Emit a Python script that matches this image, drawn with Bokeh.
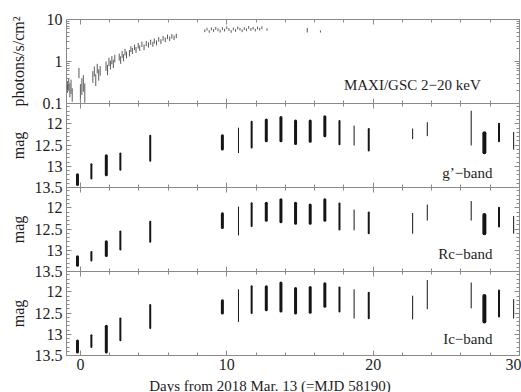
import numpy as np
from bokeh.plotting import figure
from bokeh.models import (LinearAxis, FixedTicker, Range1d, Label, ColumnDataSource,
                          LogScale, LinearScale, CustomJSTickFormatter, BoxAnnotation)
from bokeh.embed import file_html
from bokeh.resources import INLINE

# ---------------- data ----------------
maxi_day = [-0.88, -0.8, -0.72, -0.64, -0.56,
            -0.1, 0.0, 0.1, 0.2, 0.3,
            0.85, 0.95, 1.05, 1.15, 1.25, 1.35,
            1.75, 1.85, 1.95, 2.05, 2.15, 2.25, 2.35,
            2.65, 2.75, 2.85, 2.95, 3.05, 3.15,
            3.35, 3.45, 3.55, 3.7, 3.8, 3.95, 4.05, 4.2, 4.35, 4.5,
            4.65, 4.8, 4.95, 5.05, 5.2, 5.35, 5.5, 5.65, 5.8, 5.95, 6.1, 6.25, 6.4, 6.55,
            8.5, 8.65, 8.8, 8.95, 9.1, 9.25, 9.4, 9.55, 9.7, 9.85, 10.0, 10.15, 10.3, 10.45,
            10.6, 10.75, 10.9, 11.05, 11.2, 11.35, 11.5, 11.65, 11.8, 11.95, 12.1, 12.25, 12.4,
            12.75, 15.5, 16.4]
maxi_flux = [0.26, 0.30, 0.22, 0.27, 0.17,
             0.55, 0.20, 0.28, 0.33, 0.20,
             0.45, 0.60, 0.38, 0.70, 0.50, 0.62,
             0.80, 0.65, 1.00, 0.85, 1.10, 0.90, 1.20,
             1.30, 1.10, 1.50, 1.25, 1.70, 1.45,
             1.60, 2.00, 1.80, 2.20, 1.90, 2.40, 2.10, 2.60, 2.20, 2.70,
             2.50, 2.90, 2.60, 3.10, 2.80, 3.40, 3.00, 3.60, 3.30, 3.90, 3.50, 4.00, 3.70, 4.10,
             5.4, 5.9, 5.2, 6.0, 5.5, 6.2, 5.7, 5.3, 6.1, 5.6, 6.4, 5.8, 5.2, 6.0,
             5.5, 6.3, 5.9, 5.4, 6.1, 5.7, 6.5, 5.8, 6.2, 5.6, 6.3, 5.9, 6.4,
             5.8, 5.6, 5.2]
maxi_err = [0.08, 0.09, 0.08, 0.10, 0.06,
            0.15, 0.09, 0.12, 0.14, 0.10,
            0.14, 0.16, 0.12, 0.18, 0.15, 0.16,
            0.20, 0.18, 0.22, 0.20, 0.24, 0.20, 0.25,
            0.25, 0.22, 0.28, 0.24, 0.30, 0.26,
            0.28, 0.32, 0.30, 0.34, 0.30, 0.36, 0.32, 0.38, 0.34, 0.38,
            0.36, 0.40, 0.36, 0.42, 0.38, 0.44, 0.40, 0.46, 0.42, 0.48, 0.44, 0.50, 0.46, 0.50,
            0.40, 0.45, 0.38, 0.46, 0.42, 0.48, 0.44, 0.40, 0.46, 0.42, 0.50, 0.44, 0.38, 0.46,
            0.42, 0.48, 0.44, 0.40, 0.46, 0.42, 0.50, 0.44, 0.46, 0.42, 0.48, 0.44, 0.50,
            0.40, 0.70, 0.30]

night_day = [-0.2, 0.75, 1.77, 2.73, 4.77, 9.7, 10.8, 11.7, 12.7, 13.7, 14.7,
             15.7, 16.7, 17.7, 18.7, 19.7, 22.7, 23.7, 26.7, 27.6, 28.6, 29.6]
g_bright = [13.20, 12.95, 12.75, 12.70, 12.28, 12.28, 12.10, 11.95, 11.91, 11.85, 11.93,
            11.93, 11.83, 11.93, 12.05, 12.12, 12.12, 11.97, 11.70, 12.22, 12.00, 12.20]
g_faint = [13.43, 13.29, 13.20, 13.08, 12.87, 12.59, 12.68, 12.56, 12.40, 12.40, 12.46,
           12.41, 12.28, 12.48, 12.50, 12.63, 12.35, 12.28, 12.50, 12.67, 12.41, 12.60]
rc_bright = [13.15, 13.04, 12.80, 12.56, 12.33, 12.14, 11.98, 11.89, 11.89, 11.81, 11.89,
             11.93, 11.81, 11.90, 12.05, 12.11, 12.13, 11.93, 11.85, 12.17, 12.00, 12.20]
rc_faint = [13.35, 13.24, 13.12, 12.98, 12.80, 12.46, 12.64, 12.43, 12.29, 12.33, 12.36,
            12.36, 12.29, 12.51, 12.52, 12.60, 12.60, 12.29, 12.29, 12.60, 12.44, 12.60]
ic_bright = [13.16, 13.02, 12.81, 12.63, 12.31, 12.21, 11.95, 11.87, 11.88, 11.79, 11.92,
             11.90, 11.81, 11.90, 11.95, 12.02, 12.10, 11.73, 11.79, 12.10, 11.97, 12.18]
ic_faint = [13.42, 13.30, 13.42, 13.14, 12.85, 12.50, 12.70, 12.50, 12.42, 12.45, 12.50,
            12.48, 12.34, 12.46, 12.62, 12.62, 12.64, 12.40, 12.38, 12.70, 12.58, 12.62]

day_ticks = [0, 10, 20, 30]
day_minor = [2, 4, 6, 8, 12, 14, 16, 18, 22, 24, 26, 28]
mag_ticks = [12, 12.5, 13, 13.5]
mag_minor = [11.6, 11.7, 11.8, 11.9, 12.1, 12.2, 12.3, 12.4, 12.6, 12.7, 12.8, 12.9,
             13.1, 13.2, 13.3, 13.4]
flux_ticks = [0.1, 1, 10]
flux_minor = [0.2, 0.3, 0.4, 0.5, 0.6, 0.7, 0.8, 0.9, 2, 3, 4, 5, 6, 7, 8, 9]

# ---------------- styles / layout ----------------
night_weight = [3, 2, 3, 2, 2, 3, 1, 2, 3, 3, 3, 3, 3, 2, 1, 2, 1, 1, 1, 4, 2, 1]
FONT = "Liberation Serif"
AX = "#8a8a8a"
TXT = "#1e1e1e"
INK = "#151515"

W, H = 521, 392               # canvas
ML, MR, MT, MB = 66, 2, 19, 37  # margins around the stacked panels
X0, X1 = -0.95, 30.0          # day range of the panels
NP = 4                         # panels, one unit each of the main y range

ppd = (W - ML - MR) / (X1 - X0)
ppu = (H - MT - MB) / NP
XS, XE = X0 - ML / ppd, X1 + MR / ppd
YS, YE = 0 - MB / ppu, NP + MT / ppu


def stacked_range(bottom, top, k, log=False):
    b, t = (np.log10(bottom), np.log10(top)) if log else (bottom, top)
    u = t - b
    s, e = b + (YS - k) * u, b + (YE - k) * u
    if log:
        return Range1d(start=10 ** s, end=10 ** e)
    return Range1d(start=s, end=e)


panels = {  # name: (value at panel bottom, value at panel top, slot, log)
    "maxi": (0.1, 10.0, 3, True),
    "g": (13.5, 11.52, 2, False),
    "rc": (13.5, 11.52, 1, False),
    "ic": (13.5, 11.52, 0, False),
}

p = figure(width=W, height=H, frame_width=W, frame_height=H,
           x_range=Range1d(XS, XE), y_range=Range1d(YS, YE),
           min_border=0, min_border_left=0, min_border_right=0,
           min_border_top=0, min_border_bottom=0,
           output_backend="svg", toolbar_location=None,
           x_axis_location=None, y_axis_location=None,
           outline_line_color=None,
           background_fill_color="white", border_fill_color="white")
p.grid.visible = False
p.extra_y_ranges = {n: stacked_range(b, t, k, lg) for n, (b, t, k, lg) in panels.items()}
p.extra_y_scales = {n: (LogScale() if lg else LinearScale()) for n, (b, t, k, lg) in panels.items()}

fmt_num = CustomJSTickFormatter(code="return String(tick)")
fmt_none = CustomJSTickFormatter(code="return ''")


def style(ax, tin=5, tout=0, mtin=3, mtout=0, labels=True):
    ax.major_tick_in = tin
    ax.major_tick_out = tout
    ax.minor_tick_in = mtin
    ax.minor_tick_out = mtout
    ax.major_tick_line_color = AX
    ax.minor_tick_line_color = AX
    ax.axis_line_color = None
    ax.major_label_text_font = FONT
    ax.major_label_text_font_size = "16px"
    ax.major_label_text_color = TXT
    ax.formatter = fmt_num if labels else fmt_none


# panel frames
for k in range(NP):
    p.add_layout(BoxAnnotation(left=X0, right=X1, bottom=k, top=k + 1,
                               fill_alpha=0, line_color=AX, line_width=1, line_alpha=1))

# horizontal axes: bottom (labelled), top, and the panel boundaries
bottom = LinearAxis(ticker=FixedTicker(ticks=day_ticks, minor_ticks=day_minor), fixed_location=0)
style(bottom)
bottom.major_label_standoff = 3
p.add_layout(bottom, "below")
top = LinearAxis(ticker=FixedTicker(ticks=day_ticks, minor_ticks=day_minor), fixed_location=NP)
style(top, labels=False)
p.add_layout(top, "above")
for k in range(1, NP):
    b = LinearAxis(ticker=FixedTicker(ticks=day_ticks, minor_ticks=day_minor), fixed_location=k)
    style(b, tin=5, tout=5, mtin=3, mtout=3, labels=False)
    p.add_layout(b, "below")

# left / right axes of each panel
for name in panels:
    ticks, minor = (flux_ticks, flux_minor) if name == "maxi" else (mag_ticks, mag_minor)
    la = LinearAxis(y_range_name=name, ticker=FixedTicker(ticks=ticks, minor_ticks=minor),
                    fixed_location=X0)
    style(la)
    la.major_label_standoff = 4
    p.add_layout(la, "left")
    ra = LinearAxis(y_range_name=name, ticker=FixedTicker(ticks=ticks, minor_ticks=minor),
                    fixed_location=X1)
    style(ra, labels=False)
    p.add_layout(ra, "right")

# ---------------- data marks ----------------
flux = np.array(maxi_flux)
err = np.array(maxi_err)
maxi_src = ColumnDataSource(dict(day=maxi_day,
                                 lo=np.clip(flux - err, 0.105, None),
                                 hi=np.clip(flux + err, None, 9.8)))
p.segment(x0="day", y0="lo", x1="day", y1="hi", source=maxi_src, y_range_name="maxi",
          line_color="#5a5a5a", line_width=1)

for name, bright, faint in (("g", g_bright, g_faint), ("rc", rc_bright, rc_faint),
                            ("ic", ic_bright, ic_faint)):
    src = ColumnDataSource(dict(day=night_day, bright=bright, faint=faint, w=night_weight))
    p.segment(x0="day", y0="faint", x1="day", y1="bright", source=src, y_range_name=name,
              line_color=INK, line_width="w", line_cap="round")


# ---------------- texts ----------------
def label(text, x, y, rng="default", **kw):
    opts = dict(text_font=FONT, text_font_size="15px", text_color=TXT,
                text_align="right", text_baseline="middle")
    opts.update(kw)
    p.add_layout(Label(x=x, y=y, text=text, y_range_name=rng, **opts))


label("MAXI/GSC 2\u221220 keV", 27.35, 0.28, "maxi")
label("g\u2019\u2212band", 28.15, 13.15, "g")
label("Rc\u2212band", 28.15, 13.08, "rc")
label("Ic\u2212band", 28.15, 13.10, "ic")

for yc, txt in ((3.5, "photons/s/cm\u00b2"), (2.5, "mag"), (1.5, "mag"), (0.5, "mag")):
    label(txt, X0, yc, x_offset=-48, angle=np.pi / 2, text_align="center",
          text_font_size="16px")

label("Days from 2018 Mar. 13 (=MJD 58190)", 12.95, 0, y_offset=-30, text_align="center")

open("out.html", "w").write(file_html(p, INLINE))
